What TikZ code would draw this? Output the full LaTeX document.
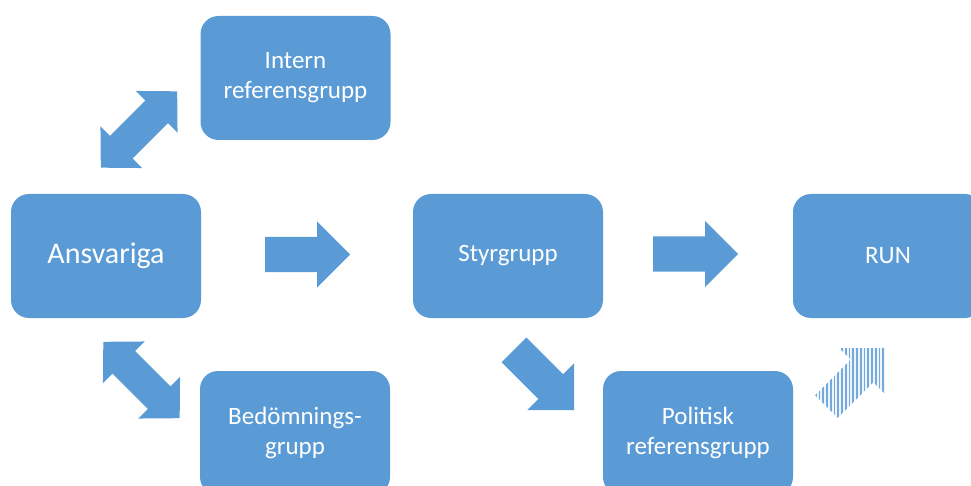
\documentclass[tikz,border=0pt]{standalone}
\usepackage{fontspec}
\setmainfont{Carlito}
\definecolor{boxblue}{HTML}{5B9BD5}
\definecolor{stripebg}{HTML}{EEF4FB}
\tikzset{
  box/.style={fill=boxblue, rounded corners=18pt, minimum width=190pt, minimum height=124pt,
    text=white, align=center, inner sep=0pt, font=\fontsize{25}{30}\selectfont},
  arrowfill/.style={fill=boxblue},
  sarrow/.pic={\fill[arrowfill] (-42.5,-17.5) -- (9.5,-17.5) -- (9.5,-33) -- (42.5,0) -- (9.5,33) -- (9.5,17.5) -- (-42.5,17.5) -- cycle;},
  darrow/.pic={\fill[arrowfill] (-54,0) -- (-25,-29.5) -- (-25,-16) -- (25,-16) -- (25,-29.5) -- (54,0) -- (25,29.5) -- (25,16) -- (-25,16) -- (-25,29.5) -- cycle;},
  stripe/.style={draw=boxblue!85, line width=1.7pt}
}
\begin{document}
\begin{tikzpicture}[x=1pt,y=-1pt]
\useasboundingbox (0,0) rectangle (971,486);
% boxes
\node[box, font=\fontsize{30}{36}\selectfont] (ans) at (106,256) {Ansvariga};
\node[box] (intern) at (295.5,78) {Intern\\referensgrupp};
\node[box] (bed) at (295,433) {Bedömnings-\\grupp};
\node[box] (styr) at (508,256) {Styrgrupp};
\node[box] (run) at (888,256) {RUN};
\node[box] (pol) at (698,433) {Politisk\\referensgrupp};
% block arrows
\pic at (307.5,254.5) {sarrow};
\pic at (695.5,254) {sarrow};
\pic[rotate=-45] at (544,380) {sarrow};
\pic[rotate=45] at (139,129.5) {darrow};
\pic[rotate=-45] at (141.5,380) {darrow};
% striped arrow
\begin{scope}
  \clip[shift={(855.75,377.25)},rotate=45] (-41.5,-16) -- (9,-16) -- (9,-32) -- (41.5,0) -- (9,32) -- (9,16) -- (-41.5,16) -- cycle;
  \fill[stripebg] (800,320) rectangle (900,430);
  \foreach \x in {812,815.75,...,892} \draw[stripe] (\x,320) -- (\x,430);
\end{scope}
\end{tikzpicture}
\end{document}
